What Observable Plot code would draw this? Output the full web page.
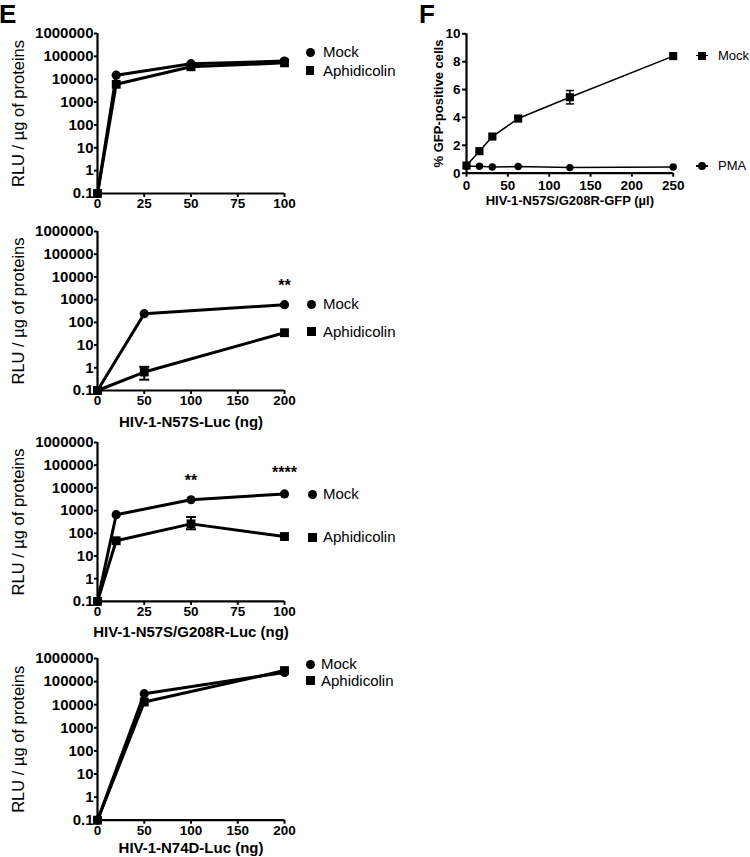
<!DOCTYPE html>
<html><head><meta charset="utf-8">
<script src="https://cdn.jsdelivr.net/npm/d3@7"></script>
<script src="https://cdn.jsdelivr.net/npm/@observablehq/plot@0.6"></script>
<style>
body{margin:0;background:#fff;}
#root{position:relative;width:750px;height:857px;overflow:hidden;font-family:"Liberation Sans",Arial,sans-serif;color:#000;}
.letter{position:absolute;font-weight:bold;font-size:26px;line-height:29px;}
.lt{position:absolute;font-size:15px;line-height:16px;height:16px;white-space:nowrap;}
.mk{position:absolute;background:#000;}
</style></head><body><div id="root"></div>
<script>
// ---------- data ----------
const seriesE = ["Mock", "Aphidicolin"];
const yTicksE = [0.1, 1, 10, 100, 1000, 10000, 100000, 1000000];
const yLabelE = "RLU / µg of proteins";

const e1Dose = [0, 10, 50, 100];
const e1Mock = [0.1, 15000, 48000, 62000];
const e1Aph  = [0.1, 6000, 35000, 52000];
const e1XTicks = [0, 25, 50, 75, 100];

const e2Dose = [0, 50, 200];
const e2Mock = [0.1, 240, 600];
const e2Aph  = [0.1, 0.65, 35];
const e2ErrDose = [50], e2ErrLow = [0.3], e2ErrHigh = [1.1];
const e2StarDose = [200], e2StarY = [5900], e2StarText = ["**"];
const e2XTicks = [0, 50, 100, 150, 200];
const e2XLabel = "HIV-1-N57S-Luc (ng)";

const e3Dose = [0, 10, 50, 100];
const e3Mock = [0.1, 660, 3000, 5400];
const e3Aph  = [0.1, 47, 260, 72];
const e3ErrDose = [50], e3ErrLow = [150], e3ErrHigh = [520];
const e3StarDose = [50, 100], e3StarY = [32000, 70000], e3StarText = ["**", "****"];
const e3XTicks = [0, 25, 50, 75, 100];
const e3XLabel = "HIV-1-N57S/G208R-Luc (ng)";

const e4Dose = [0, 50, 200];
const e4Mock = [0.1, 30000, 250000];
const e4Aph  = [0.1, 13000, 300000];
const e4XTicks = [0, 50, 100, 150, 200];
const e4XLabel = "HIV-1-N74D-Luc (ng)";

const seriesF = ["Mock", "PMA"];
const fDose = [0, 15.6, 31.25, 62.5, 125, 250];
const fMock = [0.55, 1.58, 2.63, 3.92, 5.45, 8.4];
const fPMA  = [0.5, 0.5, 0.45, 0.48, 0.4, 0.45];
const fErrDose = [125], fErrLow = [4.97], fErrHigh = [5.93];
const fXTicks = [0, 50, 100, 150, 200, 250];
const fYTicks = [0, 2, 4, 6, 8, 10];
const fXLabel = "HIV-1-N57S/G208R-GFP (µl)";
const fYLabel = "% GFP-positive cells";

// ---------- helpers ----------
const font = '"Liberation Sans", Arial, sans-serif';
const root = document.getElementById("root");
const cap = {draw(ctx, size) { const w = Math.sqrt(size / Math.PI); ctx.moveTo(-w, 0); ctx.lineTo(w, 0); }};
const rows = (xs, ys) => xs.map((x, i) => ({x, y: ys[i]}));

function place(el, left, top, w) {
  const d = document.createElement("div");
  d.style.cssText = `position:absolute;left:${left}px;top:${top}px;width:${w}px;`;
  d.appendChild(el);
  root.appendChild(d);
}
function marker(kind, cx, cy, size) {
  const m = document.createElement("div");
  m.className = "mk";
  m.style.cssText += `left:${cx - size / 2}px;top:${cy - size / 2}px;width:${size}px;height:${size}px;` + (kind === "circle" ? "border-radius:50%;" : "");
  root.appendChild(m);
}
function hline(x1, x2, cy, w) {
  const m = document.createElement("div");
  m.className = "mk";
  m.style.cssText += `left:${x1}px;top:${cy - w / 2}px;width:${x2 - x1}px;height:${w}px;`;
  root.appendChild(m);
}
function label(text, left, cy, size) {
  const t = document.createElement("div");
  t.className = "lt";
  t.textContent = text;
  t.style.cssText += `left:${left}px;top:${cy - 8}px;` + (size ? `font-size:${size}px;` : "");
  root.appendChild(t);
}

function ePanel(p) {
  const mock = rows(p.dose, p.mock), aph = rows(p.dose, p.aph);
  const err = p.errDose ? p.errDose.map((x, i) => ({x, lo: p.errLow[i], hi: p.errHigh[i]})) : [];
  const stars = p.starDose ? p.starDose.map((x, i) => ({x, y: p.starY[i], t: p.starText[i]})) : [];
  const mt = 20;
  const chart = Plot.plot({
    width: 300, height: mt + p.area + p.mb,
    marginLeft: 97, marginRight: 16, marginTop: mt, marginBottom: p.mb,
    style: {fontFamily: font, fontSize: "14px", fontWeight: "bold", color: "#000", background: "transparent", overflow: "visible"},
    x: {domain: p.xDomain},
    y: {type: "log", domain: [0.1, 1e6]},
    marks: [
      Plot.axisX({ticks: p.xTicks, tickSize: 4, tickPadding: 1, strokeWidth: 2, label: null, fontSize: 13.5, fontWeight: "bold", tickFormat: d => String(d)}),
      Plot.axisY({ticks: yTicksE, tickSize: 3, tickPadding: 1, strokeWidth: 2, label: null, fontSize: 15, fontWeight: "bold", tickFormat: d => String(d)}),
      Plot.ruleX([p.xDomain[0]], {strokeWidth: 2.2}),
      Plot.ruleY([0.1], {strokeWidth: 2.2}),
      Plot.line(mock, {x: "x", y: "y", strokeWidth: 3}),
      Plot.line(aph, {x: "x", y: "y", strokeWidth: 3}),
      Plot.ruleX(err, {x: "x", y1: "lo", y2: "hi", strokeWidth: 2}),
      Plot.dot(err, {x: "x", y: "lo", symbol: cap, r: 5, stroke: "#000", fill: "none", strokeWidth: 2}),
      Plot.dot(err, {x: "x", y: "hi", symbol: cap, r: 5, stroke: "#000", fill: "none", strokeWidth: 2}),
      Plot.dot(mock, {x: "x", y: "y", r: 4.6, fill: "#000", symbol: "circle"}),
      Plot.dot(aph, {x: "x", y: "y", r: 5, fill: "#000", symbol: "square"}),
      Plot.text(stars, {x: "x", y: "y", text: "t", fontSize: 16, dy: 4}),
      Plot.text([yLabelE], {text: d => d, frameAnchor: "left", textAnchor: "middle", lineAnchor: "middle", rotate: -90, dx: -78.3, fontSize: 16.5, fontWeight: "normal"}),
      p.xlabel ? Plot.text([p.xlabel], {text: d => d, frameAnchor: "bottom", textAnchor: "middle", lineAnchor: "middle", dy: p.xlabelDy, fontSize: 15}) : null
    ].filter(Boolean)
  });
  place(chart, 0, p.top, 300);
  // legend
  marker("circle", p.leg[0], p.leg[1], 9);
  label(seriesE[0], p.leg[4], p.leg[1]);
  marker("square", p.leg[2], p.leg[3], 8.5);
  label(seriesE[1], p.leg[4], p.leg[3]);
}

// ---------- panel letters ----------
const E = document.createElement("div"); E.className = "letter"; E.textContent = "E";
E.style.left = "-1px"; E.style.top = "0px"; root.appendChild(E);
const F = document.createElement("div"); F.className = "letter"; F.textContent = "F";
F.style.left = "419px"; F.style.top = "0px"; root.appendChild(F);

// ---------- panel E ----------
ePanel({dose: e1Dose, mock: e1Mock, aph: e1Aph, xTicks: e1XTicks, xDomain: [0, 100],
  top: 12.7, area: 160, mb: 25, leg: [310, 52.3, 310, 70.5, 323]});
ePanel({dose: e2Dose, mock: e2Mock, aph: e2Aph, xTicks: e2XTicks, xDomain: [0, 200],
  errDose: e2ErrDose, errLow: e2ErrLow, errHigh: e2ErrHigh,
  starDose: e2StarDose, starY: e2StarY, starText: e2StarText,
  xlabel: e2XLabel, xlabelDy: 31.7,
  top: 211, area: 159, mb: 45, leg: [311.7, 304, 311.7, 331.7, 323]});
ePanel({dose: e3Dose, mock: e3Mock, aph: e3Aph, xTicks: e3XTicks, xDomain: [0, 100],
  errDose: e3ErrDose, errLow: e3ErrLow, errHigh: e3ErrHigh,
  starDose: e3StarDose, starY: e3StarY, starText: e3StarText,
  xlabel: e3XLabel, xlabelDy: 31,
  top: 421.8, area: 158.9, mb: 45, leg: [312.3, 494, 312.3, 537.3, 323]});
ePanel({dose: e4Dose, mock: e4Mock, aph: e4Aph, xTicks: e4XTicks, xDomain: [0, 200],
  xlabel: e4XLabel, xlabelDy: 28.3,
  top: 638.3, area: 161.7, mb: 36.7, leg: [310.7, 664, 310.7, 680.5, 321]});

// ---------- panel F ----------
(function () {
  const mock = rows(fDose, fMock), pma = rows(fDose, fPMA);
  const err = fErrDose.map((x, i) => ({x, lo: fErrLow[i], hi: fErrHigh[i]}));
  const chart = Plot.plot({
    width: 350, height: 223, marginLeft: 66, marginRight: 77.3, marginTop: 33.3, marginBottom: 50.3,
    style: {fontFamily: font, fontSize: "13px", fontWeight: "bold", color: "#000", background: "transparent", overflow: "visible"},
    x: {domain: [0, 250]},
    y: {domain: [0, 10]},
    marks: [
      Plot.axisX({ticks: fXTicks, tickSize: 4, tickPadding: 3, strokeWidth: 2, label: null, fontSize: 13.5, fontWeight: "bold"}),
      Plot.axisY({ticks: fYTicks, tickSize: 4, tickPadding: 2, strokeWidth: 2, label: null, fontSize: 13.5, fontWeight: "bold"}),
      Plot.ruleX([0], {strokeWidth: 2.2}),
      Plot.ruleY([0], {strokeWidth: 2.2}),
      Plot.line(mock, {x: "x", y: "y", strokeWidth: 1.5}),
      Plot.line(pma, {x: "x", y: "y", strokeWidth: 1.5}),
      Plot.ruleX(err, {x: "x", y1: "lo", y2: "hi", strokeWidth: 1.5}),
      Plot.dot(err, {x: "x", y: "lo", symbol: cap, r: 4, stroke: "#000", fill: "none", strokeWidth: 1.5}),
      Plot.dot(err, {x: "x", y: "hi", symbol: cap, r: 4, stroke: "#000", fill: "none", strokeWidth: 1.5}),
      Plot.dot(pma, {x: "x", y: "y", r: 3.7, fill: "#000", symbol: "circle"}),
      Plot.dot(mock, {x: "x", y: "y", r: 4.6, fill: "#000", symbol: "square"}),
      Plot.text([fYLabel], {text: d => d, frameAnchor: "left", textAnchor: "middle", lineAnchor: "middle", rotate: -90, dx: -27.9, fontSize: 13}),
      Plot.text([fXLabel], {text: d => d, frameAnchor: "bottom", textAnchor: "middle", lineAnchor: "middle", dy: 27.3, fontSize: 13})
    ]
  });
  place(chart, 400, 0, 350);
  hline(696, 708, 55.7, 1.5);
  marker("square", 702, 55.7, 8);
  label(seriesF[0], 718, 55.7, 13);
  hline(696, 708, 166, 1.5);
  marker("circle", 702, 166, 8);
  label(seriesF[1], 718, 166, 13);
})();
</script>
</body></html>
